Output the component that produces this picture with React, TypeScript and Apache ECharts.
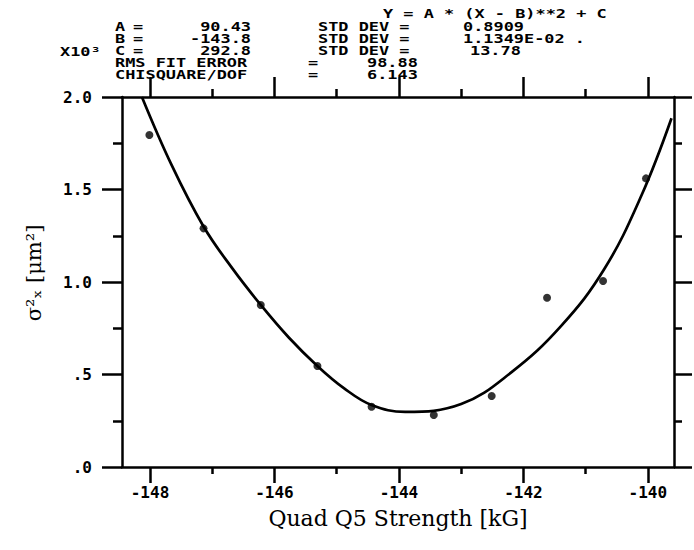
import React, { useEffect, useRef } from "react";
import * as echarts from "echarts";

// Measured data points (x in kG, y in units of 10^3 µm^2)
const pointX = [-148.01, -147.14, -146.22, -145.31, -144.44, -143.44, -142.51, -141.62, -140.72, -140.03];
const pointY = [1.795, 1.29, 0.876, 0.546, 0.326, 0.281, 0.384, 0.915, 1.005, 1.56];

// Fitted curve
const curveX = [-148.13, -147.65, -147.14, -146.68, -146.22, -145.77, -145.31, -144.88, -144.44, -143.9, -143.0, -142.2, -141.4, -140.7, -140.1, -139.62];
const curveY = [2.0, 1.63, 1.3, 1.075, 0.876, 0.7, 0.546, 0.425, 0.335, 0.298, 0.34, 0.51, 0.76, 1.07, 1.47, 1.885];

// Axis ticks
const xMajor = [-148, -146, -144, -142, -140];
const xMinor = [-147, -145, -143, -141];
const yTicks = [0, 0.5, 1.0, 1.5, 2.0];

// Header text
const fitFormula = "Y = A * (X - B)**2 + C";
const paramNames = ["A", "B", "C"];
const paramValues = ["90.43", "-143.8", "292.8"];
const paramStdDev = ["0.8909", "1.1349E-02 .", "13.78"];
const rmsLabel = "RMS FIT ERROR";
const rmsValue = "98.88";
const chiLabel = "CHISQUARE/DOF";
const chiValue = "6.143";
const multiplier = "X10³";
const xTitle = "Quad Q5 Strength [kG]";
const yTitle = "σ²ₓ [μm²]";

const MONO = '"DejaVu Sans Mono", monospace';
const SERIF = '"DejaVu Serif", serif';

export default function App() {
  const ref = useRef<HTMLDivElement>(null);
  useEffect(() => {
    const chart = echarts.init(ref.current!, null, { renderer: "svg" });
    const gridRect = { left: 122, top: 97, width: 552, height: 370 };
    const black = "#000";
    const hdr = (text: string, x: number, y: number, align = "left") => ({
      type: "text",
      x,
      y,
      scaleX: 1.3,
      style: { text, fontFamily: MONO, fontWeight: "bold", fontSize: 13, fill: black, align, verticalAlign: "middle" },
    });
    const rowY = [27, 39, 51];
    const graphic: any[] = [hdr(fitFormula, 383, 14)];
    paramNames.forEach((n, i) => {
      graphic.push(hdr(n, 115, rowY[i]));
      graphic.push(hdr("=", 133, rowY[i]));
      graphic.push(hdr(paramValues[i], 251, rowY[i], "right"));
      graphic.push(hdr("STD DEV =", 318, rowY[i]));
      graphic.push(hdr(paramStdDev[i], i === 2 ? 470 : 463, rowY[i]));
    });
    graphic.push(hdr(multiplier, 60, 52));
    graphic.push(hdr(rmsLabel, 115, 63));
    graphic.push(hdr("=", 308, 63));
    graphic.push(hdr(rmsValue, 367, 63));
    graphic.push(hdr(chiLabel, 115, 75));
    graphic.push(hdr("=", 308, 75));
    graphic.push(hdr(chiValue, 367, 75));
    graphic.push({
      type: "text",
      x: 398,
      y: 518,
      style: { text: xTitle, fontFamily: SERIF, fontSize: 22, fill: black, align: "center", verticalAlign: "middle" },
    });
    graphic.push({
      type: "text",
      x: 34,
      y: 273,
      rotation: Math.PI / 2,
      style: { text: yTitle, fontFamily: SERIF, fontSize: 21, fill: black, align: "center", verticalAlign: "middle" },
    });

    const lineStyle = { color: black, width: 2.5 };
    const xCommon = { type: "value", min: -148.45, max: -139.58, splitLine: { show: false } };
    const yCommon = { type: "value", min: 0, max: 2, interval: 0.5, splitLine: { show: false } };

    chart.setOption({
      animation: false,
      backgroundColor: "#fff",
      grid: [
        { ...gridRect, containLabel: false },
        { ...gridRect, containLabel: false },
      ],
      xAxis: [
        {
          ...xCommon,
          gridIndex: 0,
          position: "bottom",
          axisLine: { show: true, onZero: false, lineStyle },
          axisTick: { show: true, customValues: xMajor, length: 16, lineStyle },
          axisLabel: {
            customValues: xMajor,
            formatter: (v: number) => String(v),
            margin: 17,
            fontFamily: MONO,
            fontWeight: "bold",
            fontSize: 16,
            color: black,
          },
        },
        {
          ...xCommon,
          gridIndex: 0,
          position: "top",
          axisLine: { show: true, onZero: false, lineStyle },
          axisTick: { show: true, customValues: xMajor, length: 20, lineStyle },
          axisLabel: { show: false },
        },
        {
          ...xCommon,
          gridIndex: 1,
          position: "bottom",
          axisLine: { show: false, onZero: false },
          axisTick: { show: true, customValues: xMinor, length: 7, lineStyle },
          axisLabel: { show: false },
        },
        {
          ...xCommon,
          gridIndex: 1,
          position: "top",
          axisLine: { show: false, onZero: false },
          axisTick: { show: true, customValues: xMinor, length: 8, lineStyle },
          axisLabel: { show: false },
        },
      ],
      yAxis: [
        {
          ...yCommon,
          gridIndex: 0,
          position: "left",
          axisLine: { show: true, onZero: false, lineStyle },
          axisTick: { show: true, length: 20, lineStyle },
          minorTick: { show: true, splitNumber: 2, length: 9, lineStyle },
          axisLabel: {
            customValues: yTicks,
            formatter: (v: number) => v.toFixed(1).replace(/^0\./, "."),
            margin: 30,
            fontFamily: MONO,
            fontWeight: "bold",
            fontSize: 16,
            color: black,
          },
        },
        {
          ...yCommon,
          gridIndex: 0,
          position: "right",
          axisLine: { show: true, onZero: false, lineStyle },
          axisTick: { show: true, length: 18, lineStyle },
          minorTick: { show: true, splitNumber: 2, length: 8, lineStyle },
          axisLabel: { show: false },
        },
        { ...yCommon, gridIndex: 1, show: false },
        { ...yCommon, gridIndex: 1, position: "right", show: false },
      ],
      graphic,
      series: [
        {
          type: "line",
          xAxisIndex: 0,
          yAxisIndex: 0,
          data: curveX.map((x, i) => [x, curveY[i]]),
          smooth: 0.4,
          showSymbol: false,
          lineStyle: { color: black, width: 2.7 },
          silent: true,
        },
        {
          type: "scatter",
          xAxisIndex: 0,
          yAxisIndex: 0,
          data: pointX.map((x, i) => [x, pointY[i]]),
          symbol: "circle",
          symbolSize: 8,
          itemStyle: { color: black },
        },
      ],
    });
    return () => chart.dispose();
  }, []);
  return (
    <div
      ref={ref}
      style={{ position: "absolute", left: 0, top: 0, width: 694, height: 550, background: "#fff" }}
    />
  );
}
